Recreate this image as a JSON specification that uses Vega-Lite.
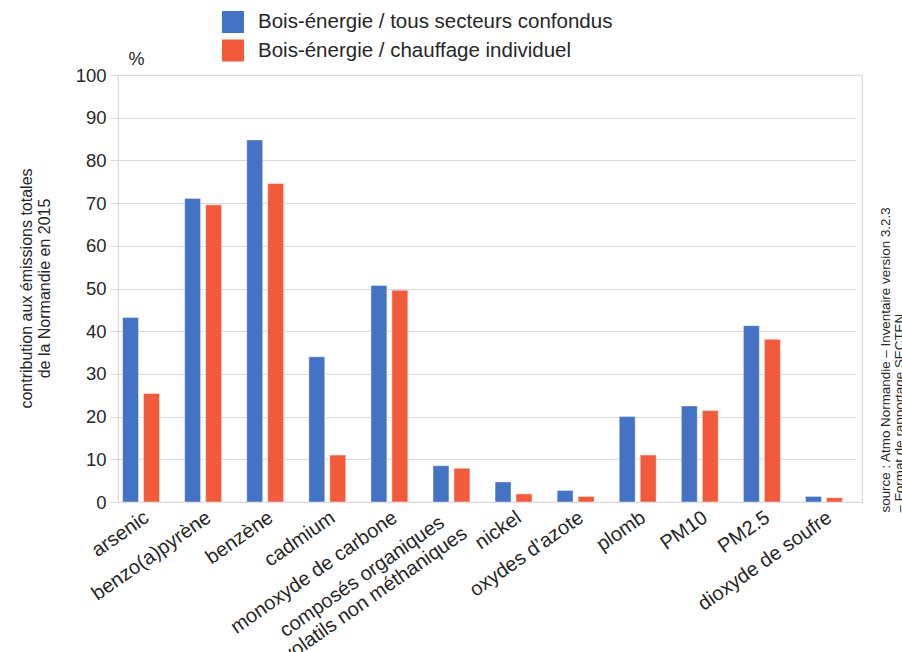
{
  "$schema": "https://vega.github.io/schema/vega-lite/v6.json",
  "width": 744,
  "height": 427,
  "autosize": {"type": "none"},
  "padding": {"left": 118, "top": 75, "right": 40, "bottom": 150},
  "background": "#ffffff",
  "config": {
    "font": "Liberation Sans",
    "view": {"stroke": "#d9d9d9", "strokeWidth": 1.2},
    "axis": {"gridColor": "#d9d9d9", "gridWidth": 1.2, "domainColor": "#d9d9d9", "labelColor": "#262626", "titleColor": "#262626", "labelFont": "Liberation Sans", "titleFont": "Liberation Sans"},
    "legend": {"labelFont": "Liberation Sans"}
  },
  "data": {
    "values": [
      {"polluant": "arsenic", "serie": "Bois-énergie / tous secteurs confondus", "valeur": 43.2},
      {"polluant": "arsenic", "serie": "Bois-énergie / chauffage individuel", "valeur": 25.4},
      {"polluant": "benzo(a)pyrène", "serie": "Bois-énergie / tous secteurs confondus", "valeur": 71.1},
      {"polluant": "benzo(a)pyrène", "serie": "Bois-énergie / chauffage individuel", "valeur": 69.6},
      {"polluant": "benzène", "serie": "Bois-énergie / tous secteurs confondus", "valeur": 84.8},
      {"polluant": "benzène", "serie": "Bois-énergie / chauffage individuel", "valeur": 74.6},
      {"polluant": "cadmium", "serie": "Bois-énergie / tous secteurs confondus", "valeur": 34.0},
      {"polluant": "cadmium", "serie": "Bois-énergie / chauffage individuel", "valeur": 11.0},
      {"polluant": "monoxyde de carbone", "serie": "Bois-énergie / tous secteurs confondus", "valeur": 50.7},
      {"polluant": "monoxyde de carbone", "serie": "Bois-énergie / chauffage individuel", "valeur": 49.6},
      {"polluant": "composés organiques volatils non méthaniques", "serie": "Bois-énergie / tous secteurs confondus", "valeur": 8.5},
      {"polluant": "composés organiques volatils non méthaniques", "serie": "Bois-énergie / chauffage individuel", "valeur": 7.9},
      {"polluant": "nickel", "serie": "Bois-énergie / tous secteurs confondus", "valeur": 4.7},
      {"polluant": "nickel", "serie": "Bois-énergie / chauffage individuel", "valeur": 1.9},
      {"polluant": "oxydes d’azote", "serie": "Bois-énergie / tous secteurs confondus", "valeur": 2.7},
      {"polluant": "oxydes d’azote", "serie": "Bois-énergie / chauffage individuel", "valeur": 1.3},
      {"polluant": "plomb", "serie": "Bois-énergie / tous secteurs confondus", "valeur": 20.0},
      {"polluant": "plomb", "serie": "Bois-énergie / chauffage individuel", "valeur": 11.0},
      {"polluant": "PM10", "serie": "Bois-énergie / tous secteurs confondus", "valeur": 22.5},
      {"polluant": "PM10", "serie": "Bois-énergie / chauffage individuel", "valeur": 21.4},
      {"polluant": "PM2.5", "serie": "Bois-énergie / tous secteurs confondus", "valeur": 41.3},
      {"polluant": "PM2.5", "serie": "Bois-énergie / chauffage individuel", "valeur": 38.1},
      {"polluant": "dioxyde de soufre", "serie": "Bois-énergie / tous secteurs confondus", "valeur": 1.3},
      {"polluant": "dioxyde de soufre", "serie": "Bois-énergie / chauffage individuel", "valeur": 1.0}
    ]
  },
  "layer": [
    {
      "mark": {"type": "bar", "stroke": "#ffffff", "strokeWidth": 0.6, "strokeOpacity": 0.7},
      "encoding": {
        "x": {
          "field": "polluant", "type": "nominal", "sort": null,
          "scale": {"range": [-8, 737], "paddingInner": 0, "paddingOuter": 0},
          "axis": {
            "title": null, "ticks": false, "grid": false,
            "labelAngle": -35, "labelBaseline": "top",
            "labelAlign": {"condition": {"test": "datum.value == 'composés organiques volatils non méthaniques'", "value": "center"}, "value": "right"},
            "labelOffset": {"condition": {"test": "datum.value == 'composés organiques volatils non méthaniques'", "value": -95}, "value": 0},
            "labelPadding": {"condition": {"test": "datum.value == 'composés organiques volatils non méthaniques'", "value": 66}, "value": 5},
            "labelFontSize": 20, "labelOverlap": false, "labelLimit": 400,
            "labelLineHeight": 22,
            "labelExpr": "datum.value == 'composés organiques volatils non méthaniques' ? ['composés organiques', 'volatils non méthaniques'] : datum.value"
          }
        },
        "xOffset": {
          "field": "serie", "type": "nominal", "sort": ["Bois-énergie / tous secteurs confondus", "Bois-énergie / chauffage individuel"],
          "scale": {"paddingInner": 0.24, "paddingOuter": 0.6}
        },
        "y": {
          "field": "valeur", "type": "quantitative",
          "scale": {"domain": [0, 100], "nice": false},
          "axis": {
            "values": [0, 10, 20, 30, 40, 50, 60, 70, 80, 90, 100],
            "ticks": false, "labelFontSize": 18.5, "labelPadding": 12,
            "title": ["contribution aux émissions totales", "de la Normandie en 2015"],
            "titleFontSize": 16, "titleFontWeight": "normal", "titleLineHeight": 18,
            "titleAngle": -90, "titleAlign": "center", "titleBaseline": "middle",
            "titleX": -92, "titleY": 213
          }
        },
        "color": {
          "field": "serie", "type": "nominal",
          "sort": ["Bois-énergie / tous secteurs confondus", "Bois-énergie / chauffage individuel"],
          "scale": {"range": ["#4472C4", "#F15A3A"]},
          "legend": {
            "title": null, "orient": "none", "legendX": 104, "legendY": -64,
            "symbolType": "square", "symbolSize": 484, "symbolStrokeWidth": 0,
            "labelFontSize": 20.5, "labelColor": "#262626", "labelOffset": 14,
            "rowPadding": 6.5, "padding": 0, "labelLimit": 500
          }
        }
      }
    },
    {
      "mark": {"type": "rule", "strokeOpacity": 0},
      "encoding": {
        "y": {
          "field": "valeur", "type": "quantitative",
          "axis": {
            "orient": "right", "labels": false, "ticks": false, "domain": false, "grid": false,
            "title": ["source : Atmo Normandie – Inventaire version 3.2.3", "– Format de rapportage SECTEN"],
            "titleFontSize": 13.4, "titleFontWeight": "normal", "titleLineHeight": 14,
            "titleAngle": -90, "titleAlign": "left", "titleBaseline": "middle",
            "titleX": 23, "titleY": 437
          }
        }
      }
    },
    {
      "mark": {"type": "rule", "strokeOpacity": 0},
      "encoding": {
        "y": {
          "field": "valeur", "type": "quantitative",
          "axis": {
            "orient": "left", "offset": 0, "labels": false, "ticks": false, "domain": false, "grid": false,
            "title": "%",
            "titleFontSize": 18, "titleFontWeight": "normal",
            "titleAngle": 0, "titleAlign": "left", "titleBaseline": "alphabetic",
            "titleX": 10, "titleY": -11
          }
        }
      }
    }
  ],
  "resolve": {"axis": {"y": "independent"}}
}
